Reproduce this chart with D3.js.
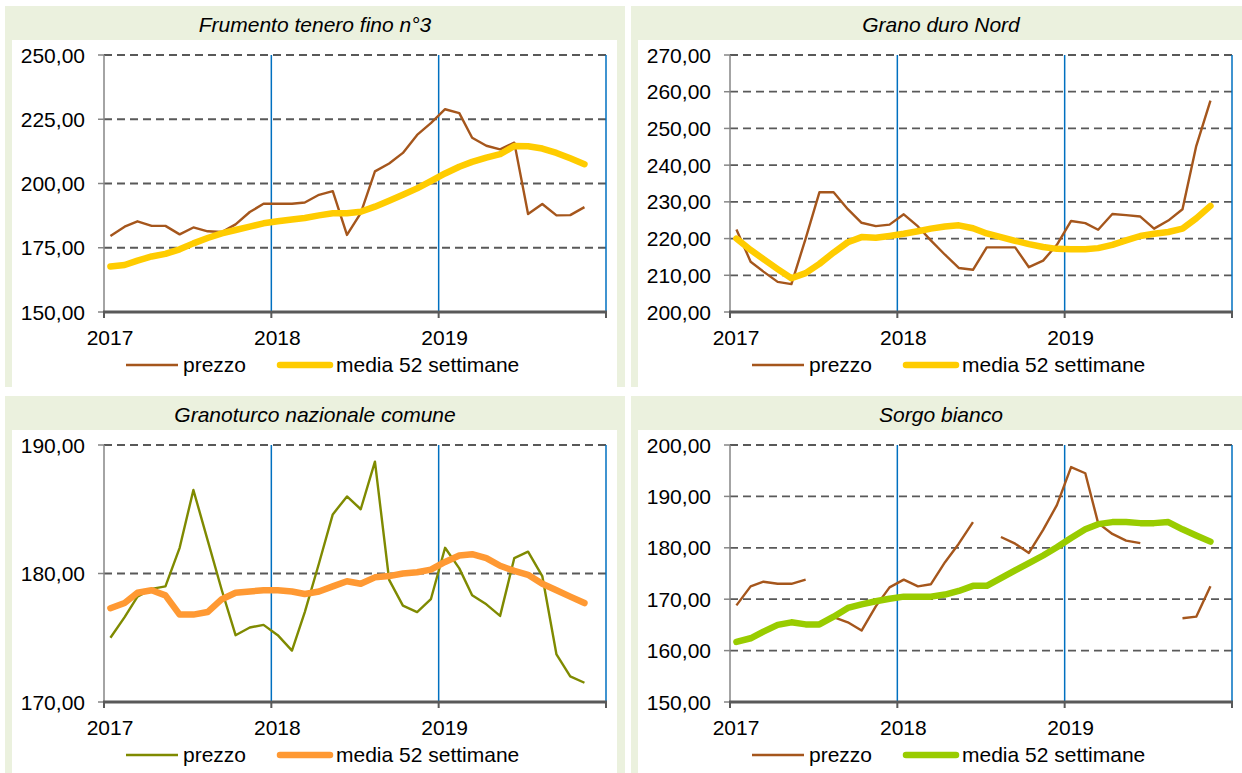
<!DOCTYPE html>
<meta charset="utf-8">
<script src="https://d3js.org/d3.v7.min.js"></script>
<style>
  body { margin: 0; background: #fff; }
  text { font-family: "Liberation Sans", Arial, sans-serif; fill: #000; }
</style>

<svg id="chart" width="1242" height="773"></svg>

<script>

// months (mid-month points)
var months = ["2017-01","2017-02","2017-03","2017-04","2017-05","2017-06","2017-07","2017-08","2017-09","2017-10","2017-11","2017-12",
              "2018-01","2018-02","2018-03","2018-04","2018-05","2018-06","2018-07","2018-08","2018-09","2018-10","2018-11","2018-12",
              "2019-01","2019-02","2019-03","2019-04","2019-05","2019-06","2019-07","2019-08","2019-09","2019-10","2019-11"];
var years = ["2017", "2018", "2019", "2020"];

// Frumento tenero fino n°3
var frumentoPrezzo = [179.6,183.2,185.3,183.5,183.5,180.2,182.9,181.4,181.1,184.1,188.9,192.1,
                      192.1,192.1,192.6,195.6,197.0,180.0,188.5,204.7,207.8,211.9,218.9,223.5,
                      228.9,227.4,217.8,214.7,213.3,215.9,188.1,192.0,187.6,187.7,190.8];
var frumentoMedia  = [167.7,168.3,170.0,171.6,172.6,174.4,176.7,178.8,180.6,181.9,183.2,184.5,
                      185.3,186.0,186.6,187.6,188.4,188.4,189.0,191.0,193.3,195.6,198.1,200.9,
                      203.9,206.5,208.4,210.1,211.4,214.6,214.5,213.6,211.9,209.8,207.5];
var frumentoTicks  = [150, 175, 200, 225, 250];

// Grano duro Nord
var granoPrezzo = [222.5,213.7,211.0,208.2,207.6,220.0,232.6,232.6,228.0,224.3,223.4,223.8,
                   226.6,223.3,219.5,215.6,212.0,211.5,217.6,217.6,217.6,212.2,214.0,218.3,
                   224.8,224.2,222.4,226.7,226.4,226.0,222.7,224.9,228.0,245.2,257.6];
var granoMedia  = [220.0,216.9,214.4,211.7,209.2,210.6,213.1,216.2,219.0,220.4,220.2,220.7,
                   221.3,222.0,222.7,223.3,223.6,222.8,221.4,220.4,219.4,218.5,217.7,217.2,
                   217.1,217.1,217.4,218.3,219.5,220.7,221.3,221.8,222.7,225.5,228.9];
var granoTicks  = [200, 210, 220, 230, 240, 250, 260, 270];

// Granoturco nazionale comune
var maisPrezzo = [175.0,176.6,178.2,178.8,179.0,182.0,186.5,182.6,178.7,175.2,175.8,176.0,
                  175.2,174.0,177.0,180.8,184.6,186.0,185.0,188.7,179.5,177.5,177.0,178.0,
                  182.0,180.4,178.3,177.6,176.7,181.2,181.7,179.8,173.7,172.0,171.5];
var maisMedia  = [177.3,177.7,178.5,178.7,178.3,176.8,176.8,177.0,178.0,178.5,178.6,178.7,
                  178.7,178.6,178.4,178.6,179.0,179.4,179.2,179.7,179.8,180.0,180.1,180.3,
                  180.9,181.4,181.5,181.2,180.6,180.2,179.9,179.2,178.7,178.2,177.7];
var maisTicks  = [170, 180, 190];

// Sorgo bianco (null = no quotation)
var sorgoPrezzo = [168.8,172.5,173.4,173.0,173.0,173.8,null,166.5,165.5,163.9,168.6,172.3,
                   173.8,172.5,172.9,177.2,180.8,185.0,null,182.1,180.8,179.0,183.5,188.3,
                   195.7,194.5,184.8,182.7,181.4,180.9,null,null,166.3,166.6,172.5];
var sorgoMedia  = [161.7,162.4,163.7,165.0,165.5,165.1,165.1,166.6,168.3,169.0,169.6,170.1,
                   170.5,170.5,170.5,170.9,171.6,172.6,172.6,174.1,175.6,177.0,178.5,180.1,
                   181.9,183.6,184.6,185.0,185.0,184.8,184.8,185.0,183.6,182.4,181.2];
var sorgoTicks  = [150, 160, 170, 180, 190, 200];

var svg = d3.select("#chart");

var locale = d3.formatLocale({decimal: ",", thousands: ".", grouping: [3], currency: ["", " €"]});
var fmt = locale.format(".2f");
var parseMonth = d3.timeParse("%Y-%m");
var dates = months.map(function(m) { var d = parseMonth(m); d.setDate(15); return d; });
var yearDates = years.map(function(y) { return new Date(+y, 0, 1); });

var panels = [
  {dx: 0,   dy: 0,   title: "Frumento tenero fino n°3",    prezzo: frumentoPrezzo, media: frumentoMedia, ticks: frumentoTicks, cPrezzo: "#a5561c", cMedia: "#ffcc00"},
  {dx: 626, dy: 0,   title: "Grano duro Nord",             prezzo: granoPrezzo,    media: granoMedia,    ticks: granoTicks,    cPrezzo: "#a5561c", cMedia: "#ffcc00"},
  {dx: 0,   dy: 390, title: "Granoturco nazionale comune", prezzo: maisPrezzo,     media: maisMedia,     ticks: maisTicks,     cPrezzo: "#7f8a00", cMedia: "#ff9933"},
  {dx: 626, dy: 390, title: "Sorgo bianco",                prezzo: sorgoPrezzo,    media: sorgoMedia,    ticks: sorgoTicks,    cPrezzo: "#a5561c", cMedia: "#99cc00"}
];

panels.forEach(drawPanel);

function drawPanel(p) {
  var g = svg.append("g").attr("transform", "translate(" + p.dx + "," + p.dy + ")");
  var left = 104, right = 606, top = 55, bottom = 312;

  // panel background
  g.append("rect").attr("x", 5).attr("y", 6).attr("width", 620).attr("height", 381).attr("fill", "#ebf1de");
  g.append("rect").attr("x", 12).attr("y", 40).attr("width", 605).attr("height", 347).attr("fill", "#fff");

  g.append("text")
    .attr("x", 315).attr("y", 32)
    .attr("text-anchor", "middle")
    .style("font-size", "21px").style("font-style", "italic")
    .text(p.title);

  var x = d3.scaleTime().domain([yearDates[0], yearDates[3]]).range([left, right]);
  var y = d3.scaleLinear().domain(d3.extent(p.ticks)).range([bottom, top]);

  // dashed gridlines
  g.append("g").selectAll("line")
    .data(p.ticks.slice(1))
    .enter().append("line")
      .attr("x1", left).attr("x2", right)
      .attr("y1", function(d) { return y(d); }).attr("y2", function(d) { return y(d); })
      .attr("stroke", "#595959").attr("stroke-width", 1.8).attr("stroke-dasharray", "8,5");

  // blue year separators
  g.append("g").selectAll("line")
    .data(yearDates.slice(1))
    .enter().append("line")
      .attr("x1", function(d) { return x(d); }).attr("x2", function(d) { return x(d); })
      .attr("y1", top).attr("y2", bottom)
      .attr("stroke", "#0070c0").attr("stroke-width", 1.5);

  // y axis
  g.append("line").attr("x1", left).attr("x2", left).attr("y1", top).attr("y2", bottom)
    .attr("stroke", "#868686").attr("stroke-width", 1.5);
  g.append("g").selectAll("line")
    .data(p.ticks)
    .enter().append("line")
      .attr("x1", left - 6).attr("x2", left)
      .attr("y1", function(d) { return y(d); }).attr("y2", function(d) { return y(d); })
      .attr("stroke", "#868686").attr("stroke-width", 1.5);
  g.append("g").selectAll("text")
    .data(p.ticks)
    .enter().append("text")
      .attr("x", left - 19).attr("y", function(d) { return y(d); })
      .attr("dy", "0.36em").attr("text-anchor", "end")
      .style("font-size", "21px")
      .text(function(d) { return fmt(d); });

  // x axis
  g.append("line").attr("x1", left - 1).attr("x2", right + 1).attr("y1", bottom).attr("y2", bottom)
    .attr("stroke", "#595959").attr("stroke-width", 3);
  g.append("g").selectAll("line")
    .data(yearDates)
    .enter().append("line")
      .attr("x1", function(d) { return x(d); }).attr("x2", function(d) { return x(d); })
      .attr("y1", bottom).attr("y2", bottom + 6)
      .attr("stroke", "#595959").attr("stroke-width", 2);
  g.append("g").selectAll("text")
    .data(yearDates.slice(0, 3))
    .enter().append("text")
      .attr("x", function(d) { return x(d) + 6; }).attr("y", 345)
      .attr("text-anchor", "middle")
      .style("font-size", "21px")
      .text(function(d, i) { return years[i]; });

  // series
  var line = d3.line()
    .defined(function(d) { return d[1] != null; })
    .x(function(d) { return x(d[0]); })
    .y(function(d) { return y(d[1]); });

  g.append("path")
    .datum(dates.map(function(d, i) { return [d, p.prezzo[i]]; }))
    .attr("d", line)
    .attr("fill", "none").attr("stroke", p.cPrezzo).attr("stroke-width", 2.4)
    .attr("stroke-linejoin", "round");

  g.append("path")
    .datum(dates.map(function(d, i) { return [d, p.media[i]]; }))
    .attr("d", line)
    .attr("fill", "none").attr("stroke", p.cMedia).attr("stroke-width", 6.5)
    .attr("stroke-linejoin", "round").attr("stroke-linecap", "round");

  // legend
  g.append("line").attr("x1", 126).attr("x2", 178).attr("y1", 365).attr("y2", 365)
    .attr("stroke", p.cPrezzo).attr("stroke-width", 2.4);
  g.append("text").attr("x", 183).attr("y", 372).style("font-size", "21px").text("prezzo");
  g.append("line").attr("x1", 280).attr("x2", 330).attr("y1", 365).attr("y2", 365)
    .attr("stroke", p.cMedia).attr("stroke-width", 6.5).attr("stroke-linecap", "round");
  g.append("text").attr("x", 336).attr("y", 372).style("font-size", "21px").text("media 52 settimane");
}

</script>
